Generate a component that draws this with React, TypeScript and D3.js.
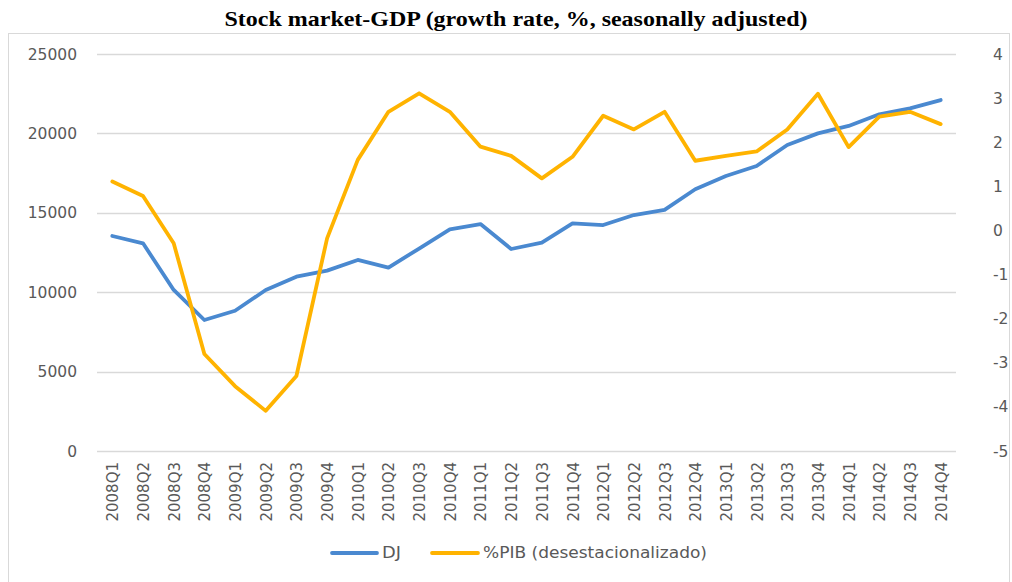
import React from "react";
import * as d3 from "d3";

const categories = [
  "2008Q1","2008Q2","2008Q3","2008Q4",
  "2009Q1","2009Q2","2009Q3","2009Q4",
  "2010Q1","2010Q2","2010Q3","2010Q4",
  "2011Q1","2011Q2","2011Q3","2011Q4",
  "2012Q1","2012Q2","2012Q3","2012Q4",
  "2013Q1","2013Q2","2013Q3","2013Q4",
  "2014Q1","2014Q2","2014Q3","2014Q4",
];

const djValues = [
  13540, 13080, 10140, 8250,
  8830, 10140, 10980, 11360,
  12030, 11550, 12750, 13960,
  14290, 12720, 13120, 14340,
  14230, 14860, 15180, 16480,
  17320, 17950, 19270, 20000,
  20470, 21200, 21580, 22100,
];

const pibValues = [
  1.11, 0.78, -0.29, -2.8,
  -3.53, -4.09, -3.3, -0.18,
  1.6, 2.69, 3.11, 2.69,
  1.9, 1.69, 1.18, 1.67,
  2.6, 2.29, 2.69, 1.58,
  1.69, 1.79, 2.29, 3.1,
  1.89, 2.58, 2.69, 2.41,
];

const leftTicks = [0, 5000, 10000, 15000, 20000, 25000];
const rightTicks = [-5, -4, -3, -2, -1, 0, 1, 2, 3, 4];

const titleText = "Stock market-GDP (growth rate, %, seasonally adjusted)";
const seriesNames = ["DJ", "%PIB (desestacionalizado)"];

const W = 1012;
const H = 582;
const plotLeft = 97;
const plotRight = 956;
const plotTop = 54;
const plotBottom = 451;

const BLUE = "#4A89D0";
const ORANGE = "#FFB300";
const TEXT = "#595959";
const GRID = "#D9D9D9";
const FONT = "'DejaVu Sans', sans-serif";

export default function App() {
  const x = d3.scaleBand<string>().domain(categories).range([plotLeft, plotRight]).padding(0);
  const yL = d3.scaleLinear().domain([0, 25000]).range([plotBottom, plotTop]);
  const yR = d3.scaleLinear().domain([-5, 4]).range([plotBottom, plotTop]);
  const cx = (c: string) => (x(c) as number) + x.bandwidth() / 2;

  const djLine = d3
    .line<number>()
    .x((_, i) => cx(categories[i]))
    .y((d) => yL(d))(djValues) as string;
  const pibLine = d3
    .line<number>()
    .x((_, i) => cx(categories[i]))
    .y((d) => yR(d))(pibValues) as string;

  return (
    <svg
      width={W}
      height={H}
      style={{ position: "absolute", left: 0, top: 0, background: "#fff" }}
    >
      <rect x={0} y={0} width={W} height={H} fill="#fff" />
      <text
        x={516}
        y={26}
        textAnchor="middle"
        fontFamily="'Liberation Serif', 'Times New Roman', serif"
        fontWeight="bold"
        fontSize={22}
        textLength={583}
        lengthAdjust="spacingAndGlyphs"
        fill="#000"
      >
        {titleText}
      </text>
      <rect x={8.5} y={33.5} width={1001} height={560} fill="none" stroke={GRID} strokeWidth={1} />
      {leftTicks.map((t) => (
        <g key={"l" + t}>
          <line x1={plotLeft} x2={plotRight} y1={Math.round(yL(t)) + 0.5} y2={Math.round(yL(t)) + 0.5} stroke={GRID} strokeWidth={1.3} />
          <text x={77} y={yL(t)} dy="0.36em" textAnchor="end" fontFamily={FONT} fontSize={15.5} fill={TEXT}>
            {t}
          </text>
        </g>
      ))}
      {rightTicks.map((t) => (
        <text key={"r" + t} x={993} y={yR(t)} dy="0.36em" textAnchor="start" fontFamily={FONT} fontSize={15.5} fill={TEXT}>
          {t}
        </text>
      ))}
      {categories.map((c) => (
        <text
          key={c}
          transform={`translate(${cx(c) + 6},${462}) rotate(-90)`}
          textAnchor="end"
          fontFamily={FONT}
          fontSize={15}
          fill={TEXT}
        >
          {c}
        </text>
      ))}
      <path d={djLine} fill="none" stroke={BLUE} strokeWidth={3.8} strokeLinejoin="round" strokeLinecap="round" />
      <path d={pibLine} fill="none" stroke={ORANGE} strokeWidth={3.8} strokeLinejoin="round" strokeLinecap="round" />
      <g>
        <line x1={332} x2={377} y1={553} y2={553} stroke={BLUE} strokeWidth={3.8} strokeLinecap="round" />
        <text x={382} y={553} dy="0.36em" fontFamily={FONT} fontSize={15} textLength={19} lengthAdjust="spacingAndGlyphs" fill={TEXT}>
          {seriesNames[0]}
        </text>
        <line x1={432} x2={478} y1={553} y2={553} stroke={ORANGE} strokeWidth={3.8} strokeLinecap="round" />
        <text x={483} y={553} dy="0.36em" fontFamily={FONT} fontSize={15} textLength={224} lengthAdjust="spacingAndGlyphs" fill={TEXT}>
          {seriesNames[1]}
        </text>
      </g>
    </svg>
  );
}
